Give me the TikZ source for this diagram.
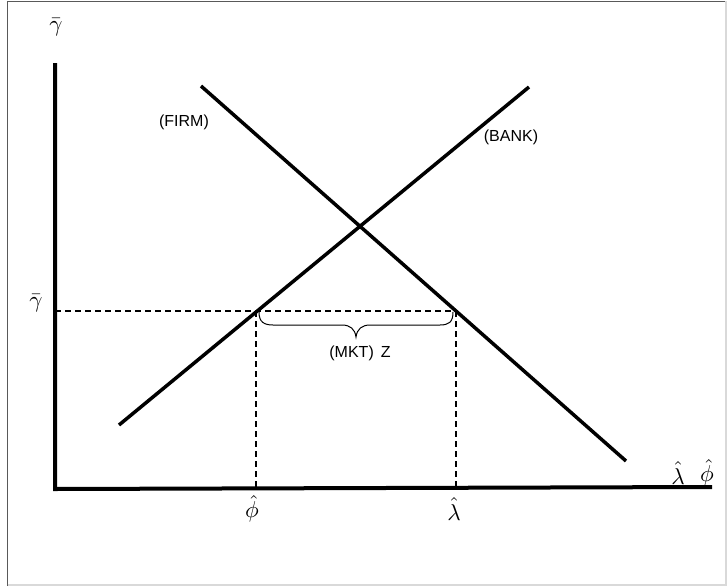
\documentclass[tikz,border=0pt]{standalone}
\usepackage{fontspec}
\usepackage{graphicx}
\setmainfont{Liberation Sans}
\newcommand{\biglab}[1]{\scalebox{2.3}{$#1$}}
\begin{document}
\begin{tikzpicture}[x=1pt,y=-1pt,
  axis/.style={line width=4pt},
  curve/.style={line width=3.5pt},
  guide/.style={line width=2.5pt, dash pattern=on 6pt off 4pt},
  lbl/.style={font=\fontsize{16}{18}\selectfont, inner sep=0pt},
  mlbl/.style={inner sep=0pt}]
\useasboundingbox (0,0) rectangle (727,586);
% frame
\draw[line width=1.5pt, gray!70!black] (7.5,586) -- (7.5,1.5) -- (727,1.5);
\draw[line width=1.5pt, gray!30] (7.5,585) -- (726,585) -- (726,1.5);
% coordinates
\coordinate (origin) at (55,487);
\coordinate (ytop) at (55,63);
\coordinate (xend) at (712,487);
\coordinate (firmA) at (201,86);
\coordinate (firmB) at (626,461);
\coordinate (bankA) at (119,425);
\coordinate (bankB) at (529,87);
\coordinate (gl) at (55,311);
\coordinate (pL) at (256,311);
\coordinate (pR) at (456,311);
\coordinate (bL) at (256,487);
\coordinate (bR) at (456,487);
% guides
\draw[guide] (gl) -- (pR);
\draw[guide] (pL) -- (bL);
\draw[guide] (pR) -- (bR);
% axes
\draw[axis] (ytop) -- ([yshift=-2pt]origin) -- (xend);
% curves
\draw[curve] (firmA) -- (firmB);
\draw[curve] (bankA) -- (bankB);
% brace
\draw[line width=1pt] (259,312) .. controls (259,322) and (264,325) .. (273,325) -- (342,325) .. controls (350,325) and (355,329) .. (356,337) .. controls (357,329) and (362,325) .. (370,325) -- (440,325) .. controls (449,325) and (453,322) .. (453,312);
% labels
\node[mlbl] (gtop) at (56,27) {\biglab{\bar{\gamma}}};
\node[mlbl] (gleft) at (36,303) {\biglab{\bar{\gamma}}};
\node[mlbl] (phib) at (252,509) {\biglab{\hat{\phi}}};
\node[mlbl] (lamb) at (454,509) {\biglab{\hat{\lambda}}};
\node[mlbl] (lamr) at (678,473) {\biglab{\hat{\lambda}}};
\node[mlbl] (phir) at (707,473) {\biglab{\hat{\phi}}};
\node[lbl] (firm) at (184,122) {(FIRM)};
\node[lbl] (bank) at (511,137) {(BANK)};
\node[lbl] (mkt) at (360,353) {(MKT)\hspace{7pt}Z};
\end{tikzpicture}
\end{document}
